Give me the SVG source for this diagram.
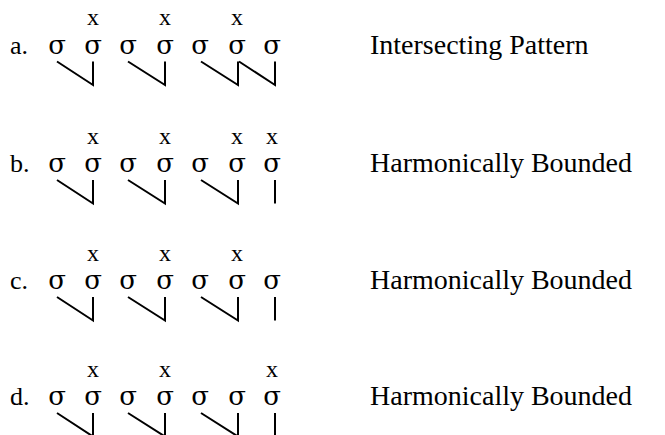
<svg xmlns="http://www.w3.org/2000/svg" width="665" height="435" viewBox="0 0 665 435">
<style>
text{font-family:"Liberation Serif","Times New Roman",serif;fill:#000}
.s{font-family:"DejaVu Serif","Liberation Serif",serif;font-size:26px;text-anchor:middle}
.x{font-size:24px;text-anchor:middle}
.lt{font-size:26px}
.lab{font-size:28px}
.ln{stroke:#000;stroke-width:2;fill:none;stroke-linecap:butt}
</style>
<rect width="665" height="435" fill="#fff"/>
<defs>
<g id="sig">
<text class="s" x="57" y="0">σ</text>
<text class="s" x="93" y="0">σ</text>
<text class="s" x="128" y="0">σ</text>
<text class="s" x="165" y="0">σ</text>
<text class="s" x="200" y="0">σ</text>
<text class="s" x="237" y="0">σ</text>
<text class="s" x="272" y="0">σ</text>
</g>
<g id="base3">
<path class="ln" d="M57,8 L93,31.5 V8 M128,8 L165,31.5 V8 M201,8 L238,31.5 V8"/>
</g>
</defs>
<g id="row-a" transform="translate(0,53.5)">
<text class="lt" x="10" y="0">a.</text>
<use href="#sig"/>
<text class="x" x="93" y="-28.5">x</text>
<text class="x" x="165" y="-28.5">x</text>
<text class="x" x="237" y="-28.5">x</text>
<text class="lab" x="370" y="0">Intersecting Pattern</text>
</g>
<g id="row-b" transform="translate(0,172)">
<text class="lt" x="10" y="0">b.</text>
<use href="#sig"/>
<text class="x" x="93" y="-28.5">x</text>
<text class="x" x="165" y="-28.5">x</text>
<text class="x" x="237" y="-28.5">x</text>
<text class="x" x="272" y="-28.5">x</text>
<text class="lab" x="370" y="0">Harmonically Bounded</text>
</g>
<g id="row-c" transform="translate(0,289)">
<text class="lt" x="10" y="0">c.</text>
<use href="#sig"/>
<text class="x" x="93" y="-28.5">x</text>
<text class="x" x="165" y="-28.5">x</text>
<text class="x" x="237" y="-28.5">x</text>
<text class="lab" x="370" y="0">Harmonically Bounded</text>
</g>
<g id="row-d" transform="translate(0,405)">
<text class="lt" x="10" y="0">d.</text>
<use href="#sig"/>
<text class="x" x="93" y="-28.5">x</text>
<text class="x" x="165" y="-28.5">x</text>
<text class="x" x="272" y="-28.5">x</text>
<text class="lab" x="370" y="0">Harmonically Bounded</text>
</g>
<g id="connectors">
<g transform="translate(0,53.5)">
<use href="#base3"/>
<path class="ln" d="M239,8 L275,31.5 V8"/>
</g>
<g transform="translate(0,172)">
<use href="#base3"/>
<path class="ln" d="M275,8 V31.5"/>
</g>
<g transform="translate(0,289)">
<use href="#base3"/>
<path class="ln" d="M275,8 V31.5"/>
</g>
<g transform="translate(0,405)">
<use href="#base3"/>
<path class="ln" d="M275,8 V31.5"/>
</g>
</g>
</svg>
